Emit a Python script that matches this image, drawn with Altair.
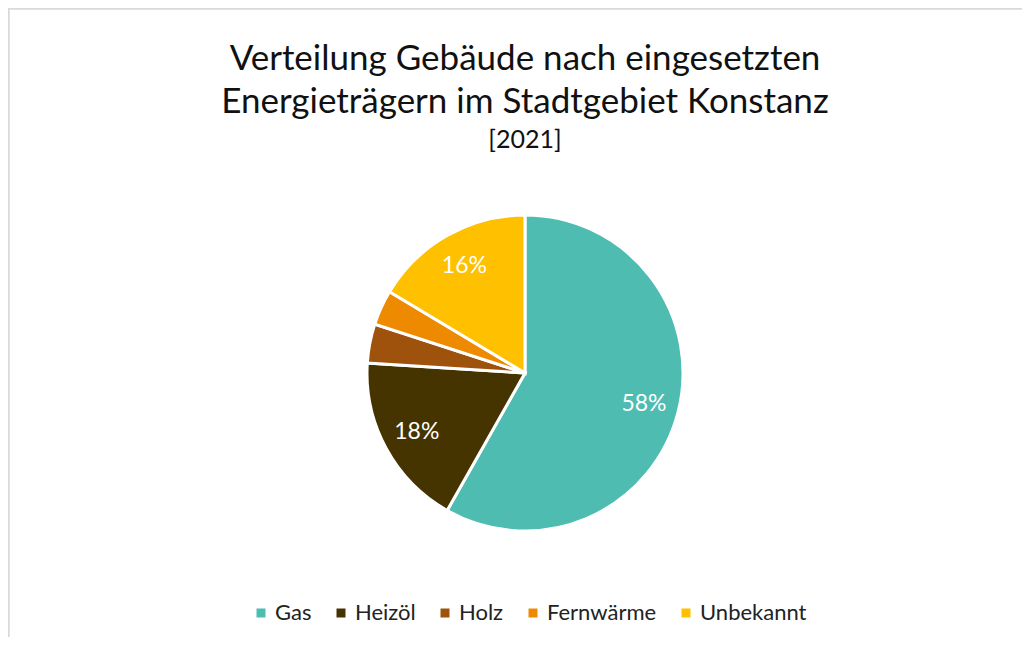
import altair as alt
import pandas as pd

categories = ["Gas", "Heizöl", "Holz", "Fernwärme", "Unbekannt"]
shares = [58.2, 17.8, 4.0, 3.6, 16.4]
colors = ["#4EBCB1", "#453300", "#9E520C", "#EE8A00", "#FFC000"]

df = pd.DataFrame({"Energieträger": categories, "Anteil": shares, "Ordnung": list(range(len(categories)))})

W, H = 1014, 629
CX, CY = 517, 373 - 8
R = 158
FONT = "Lato"

base = alt.Chart(df).encode(
    theta=alt.Theta("Anteil:Q", stack=True),
    order=alt.Order("Ordnung:Q"),
)

arcs = base.mark_arc(stroke="white", strokeWidth=3).encode(
    x=alt.value(CX), y=alt.value(CY), radius=alt.value(R),
    color=alt.Color(
        "Energieträger:N",
        scale=alt.Scale(domain=categories, range=colors),
        sort=categories,
        legend=alt.Legend(
            title=None, orient="none", direction="horizontal",
            legendX=242, legendY=594, symbolType="square", symbolSize=81,
            labelFontSize=22, labelFont=FONT, labelColor="#222222",
            columnPadding=18, labelOffset=3, symbolStrokeWidth=0,
        ),
    ),
)

labels = base.transform_calculate(
    label="datum.Anteil > 10 ? format(datum.Anteil/100, '.0%') : ''"
).mark_text(fontSize=23, font=FONT, color="white").encode(
    x=alt.value(CX), y=alt.value(CY), radius=alt.value(123), text="label:N",
)

top_line = alt.Chart(df).mark_rule(color="#d9d9d9", strokeWidth=1.5).encode(
    x=alt.value(0), x2=alt.value(W + 20), y=alt.value(0.5)
)
left_line = alt.Chart(df).mark_rule(color="#d9d9d9", strokeWidth=1.5).encode(
    x=alt.value(0.5), y=alt.value(0), y2=alt.value(H + 20)
)

chart = alt.layer(top_line, left_line, arcs, labels).properties(
    width=W, height=H,
    autosize=alt.AutoSizeParams(type="none"),
    padding=0,
    title=alt.Title(
        text=["Verteilung Gebäude nach eingesetzten", "Energieträgern im Stadtgebiet Konstanz"],
        subtitle="[2021]",
        anchor="middle", font=FONT, fontSize=35, fontWeight="normal", color="#111111",
        lineHeight=43, subtitleFont=FONT, subtitleFontSize=25, subtitleColor="#111111",
        subtitlePadding=8, offset=-146, dx=10,
    ),
).configure_view(stroke=None).configure(background="white")

chart.save("out.html", embed_options={"renderer": "svg", "actions": False})
